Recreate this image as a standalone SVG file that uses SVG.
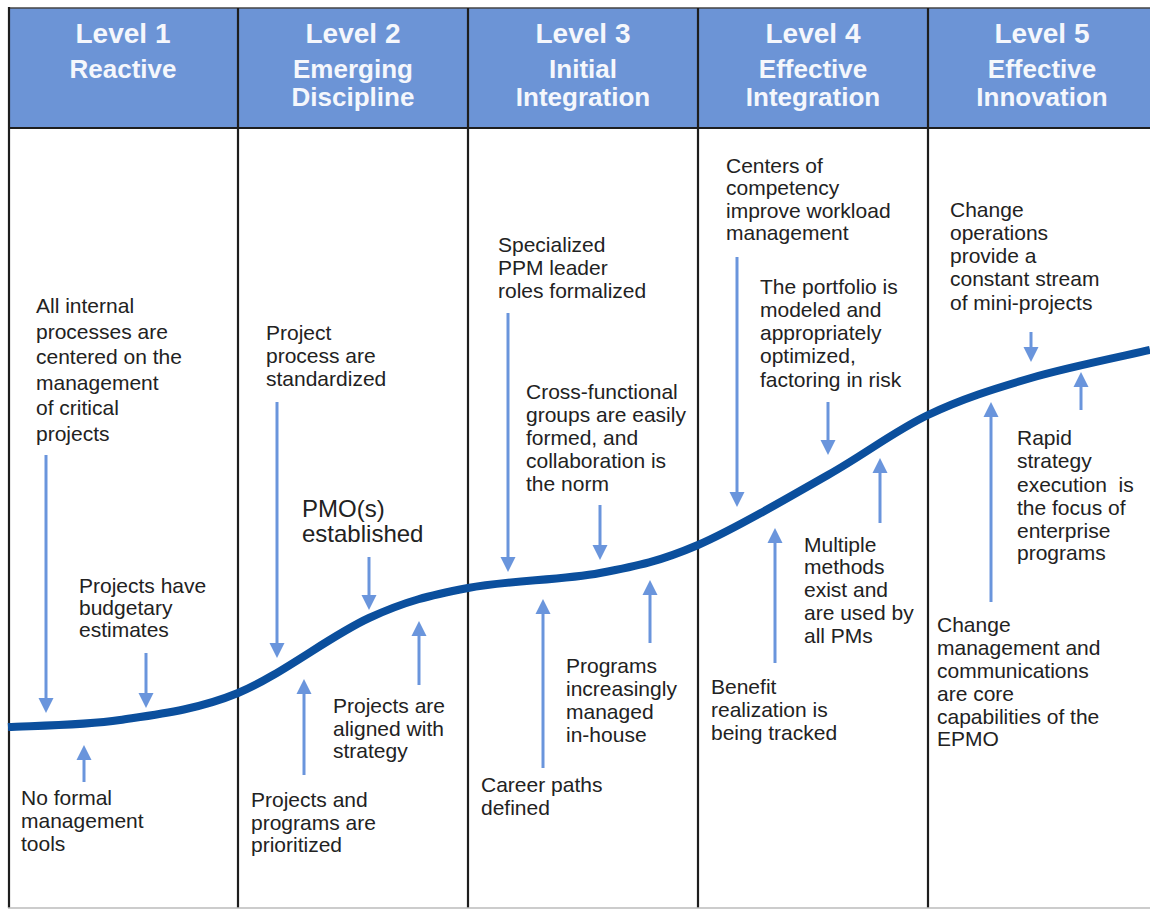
<svg xmlns="http://www.w3.org/2000/svg" width="1150" height="911" viewBox="0 0 1150 911">
<style>
.hdr{fill:#6c94d6}
.frame{stroke:#1e1e1e;stroke-width:2.2;fill:none}
.h1{font-family:"Liberation Sans",Arial,sans-serif;font-weight:bold;font-size:28px;fill:#f5f7fc;text-anchor:middle}
.h2{font-family:"Liberation Sans",Arial,sans-serif;font-weight:bold;font-size:26px;fill:#f5f7fc;text-anchor:middle}
.t{font-family:"Liberation Sans",Arial,sans-serif;font-size:21px;fill:#222}
.big{font-size:24px}
.arr{stroke:#6a95dc;stroke-width:3;fill:none;marker-end:url(#ah)}
.curve{stroke:#0b4f9d;stroke-width:8;fill:none;stroke-linecap:butt}
</style>
<defs>
<marker id="ah" markerUnits="userSpaceOnUse" markerWidth="16" markerHeight="16" refX="1" refY="8" orient="auto">
<path d="M0,0.5 L15,8 L0,15.5 z" fill="#6a95dc"/>
</marker>
</defs>
<rect x="0" y="0" width="1150" height="911" fill="#ffffff"/>
<g id="header">
<rect class="hdr" x="9" y="8" width="1141" height="120"/>
</g>
<g id="frame">
<line class="frame" x1="8" y1="8" x2="1150" y2="8" style="stroke-width:1.5;stroke:#444"/>
<line class="frame" x1="9" y1="7" x2="9" y2="908"/>
<line class="frame" x1="238" y1="8" x2="238" y2="908"/>
<line class="frame" x1="468" y1="8" x2="468" y2="908"/>
<line class="frame" x1="698" y1="8" x2="698" y2="908"/>
<line class="frame" x1="928" y1="8" x2="928" y2="908"/>
<line class="frame" x1="8" y1="128" x2="1150" y2="128"/>
<line x1="8" y1="908" x2="1150" y2="908" stroke="#bbbbbb" stroke-width="1.5"/>
</g>
<g id="level1-head"><text class="h1" x="123" y="43">Level 1</text><text class="h2" x="123" y="78">Reactive</text></g>
<g id="level2-head"><text class="h1" x="353" y="43">Level 2</text><text class="h2" x="353" y="78">Emerging</text><text class="h2" x="353" y="106">Discipline</text></g>
<g id="level3-head"><text class="h1" x="583" y="43">Level 3</text><text class="h2" x="583" y="78">Initial</text><text class="h2" x="583" y="106">Integration</text></g>
<g id="level4-head"><text class="h1" x="813" y="43">Level 4</text><text class="h2" x="813" y="78">Effective</text><text class="h2" x="813" y="106">Integration</text></g>
<g id="level5-head"><text class="h1" x="1042" y="43">Level 5</text><text class="h2" x="1042" y="78">Effective</text><text class="h2" x="1042" y="106">Innovation</text></g>

<g id="curve"><path class="curve" d="M8,727 C26.7,725.8 81.7,725.7 120,720 C158.3,714.3 196.5,710 238,693 C279.5,676 330.7,635.5 369,618 C407.3,600.5 429.5,595.5 468,588 C506.5,580.5 561.7,580.2 600,573 C638.3,565.8 660,561.3 698,545 C736,528.7 789.7,496.7 828,475 C866.3,453.3 894.2,431.2 928,415 C961.8,398.8 994,388.8 1031,378 C1068,367.2 1130.2,354.7 1150,350"/></g>

<g id="connectors">
<line class="arr" x1="46" y1="455" x2="46" y2="699"/>
<line class="arr" x1="146" y1="653" x2="146" y2="694"/>
<line class="arr" x1="84" y1="782" x2="84" y2="759"/>
<line class="arr" x1="277" y1="402" x2="277" y2="644"/>
<line class="arr" x1="369" y1="557" x2="369" y2="596"/>
<line class="arr" x1="419" y1="685" x2="419" y2="635"/>
<line class="arr" x1="304" y1="775" x2="304" y2="693"/>
<line class="arr" x1="508" y1="313" x2="508" y2="558"/>
<line class="arr" x1="600" y1="505" x2="600" y2="546"/>
<line class="arr" x1="543" y1="768" x2="543" y2="613"/>
<line class="arr" x1="650" y1="643" x2="650" y2="594"/>
<line class="arr" x1="737" y1="257" x2="737" y2="493"/>
<line class="arr" x1="828" y1="402" x2="828" y2="441"/>
<line class="arr" x1="880" y1="523" x2="880" y2="472"/>
<line class="arr" x1="775" y1="663" x2="775" y2="542"/>
<line class="arr" x1="1031" y1="332" x2="1031" y2="348"/>
<line class="arr" x1="1081" y1="410" x2="1081" y2="386"/>
<line class="arr" x1="991" y1="602" x2="991" y2="416"/>
</g>

<g id="n1a"><text class="t" x="36"><tspan x="36" y="313">All internal</tspan><tspan x="36" y="339">processes are</tspan><tspan x="36" y="364">centered on the</tspan><tspan x="36" y="390">management</tspan><tspan x="36" y="415">of critical</tspan><tspan x="36" y="441">projects</tspan></text></g>
<g id="n1b"><text class="t"><tspan x="79" y="593">Projects have</tspan><tspan x="79" y="615">budgetary</tspan><tspan x="79" y="637">estimates</tspan></text></g>
<g id="n1c"><text class="t"><tspan x="21" y="805">No formal</tspan><tspan x="21" y="828">management</tspan><tspan x="21" y="851">tools</tspan></text></g>

<g id="n2a"><text class="t"><tspan x="266" y="340">Project</tspan><tspan x="266" y="363">process are</tspan><tspan x="266" y="386">standardized</tspan></text></g>
<g id="n2b"><text class="t big"><tspan x="302" y="517">PMO(s)</tspan><tspan x="302" y="542">established</tspan></text></g>
<g id="n2c"><text class="t"><tspan x="333" y="713">Projects are</tspan><tspan x="333" y="736">aligned with</tspan><tspan x="333" y="758">strategy</tspan></text></g>
<g id="n2d"><text class="t"><tspan x="251" y="807">Projects and</tspan><tspan x="251" y="830">programs are</tspan><tspan x="251" y="852">prioritized</tspan></text></g>

<g id="n3a"><text class="t"><tspan x="498" y="252">Specialized</tspan><tspan x="498" y="275">PPM leader</tspan><tspan x="498" y="298">roles formalized</tspan></text></g>
<g id="n3b"><text class="t"><tspan x="526" y="399">Cross-functional</tspan><tspan x="526" y="422">groups are easily</tspan><tspan x="526" y="445">formed, and</tspan><tspan x="526" y="468">collaboration is</tspan><tspan x="526" y="491">the norm</tspan></text></g>
<g id="n3c"><text class="t"><tspan x="566" y="673">Programs</tspan><tspan x="566" y="696">increasingly</tspan><tspan x="566" y="719">managed</tspan><tspan x="566" y="742">in-house</tspan></text></g>
<g id="n3d"><text class="t"><tspan x="481" y="792">Career paths</tspan><tspan x="481" y="815">defined</tspan></text></g>

<g id="n4a"><text class="t"><tspan x="726" y="173">Centers of</tspan><tspan x="726" y="195">competency</tspan><tspan x="726" y="218">improve workload</tspan><tspan x="726" y="240">management</tspan></text></g>
<g id="n4b"><text class="t"><tspan x="760" y="294">The portfolio is</tspan><tspan x="760" y="317">modeled and</tspan><tspan x="760" y="340">appropriately</tspan><tspan x="760" y="363">optimized,</tspan><tspan x="760" y="387">factoring in risk</tspan></text></g>
<g id="n4c"><text class="t"><tspan x="804" y="552">Multiple</tspan><tspan x="804" y="574">methods</tspan><tspan x="804" y="597">exist and</tspan><tspan x="804" y="620">are used by</tspan><tspan x="804" y="643">all PMs</tspan></text></g>
<g id="n4d"><text class="t"><tspan x="711" y="694">Benefit</tspan><tspan x="711" y="717">realization is</tspan><tspan x="711" y="740">being tracked</tspan></text></g>

<g id="n5a"><text class="t"><tspan x="950" y="217">Change</tspan><tspan x="950" y="240">operations</tspan><tspan x="950" y="263">provide a</tspan><tspan x="950" y="286">constant stream</tspan><tspan x="950" y="310">of mini-projects</tspan></text></g>
<g id="n5b"><text class="t"><tspan x="1017" y="445">Rapid</tspan><tspan x="1017" y="468">strategy</tspan><tspan x="1017" y="492" xml:space="preserve">execution  is</tspan><tspan x="1017" y="515">the focus of</tspan><tspan x="1017" y="538">enterprise</tspan><tspan x="1017" y="560">programs</tspan></text></g>
<g id="n5c"><text class="t"><tspan x="937" y="632">Change</tspan><tspan x="937" y="655">management and</tspan><tspan x="937" y="678">communications</tspan><tspan x="937" y="701">are core</tspan><tspan x="937" y="724">capabilities of the</tspan><tspan x="937" y="746">EPMO</tspan></text></g>
</svg>
